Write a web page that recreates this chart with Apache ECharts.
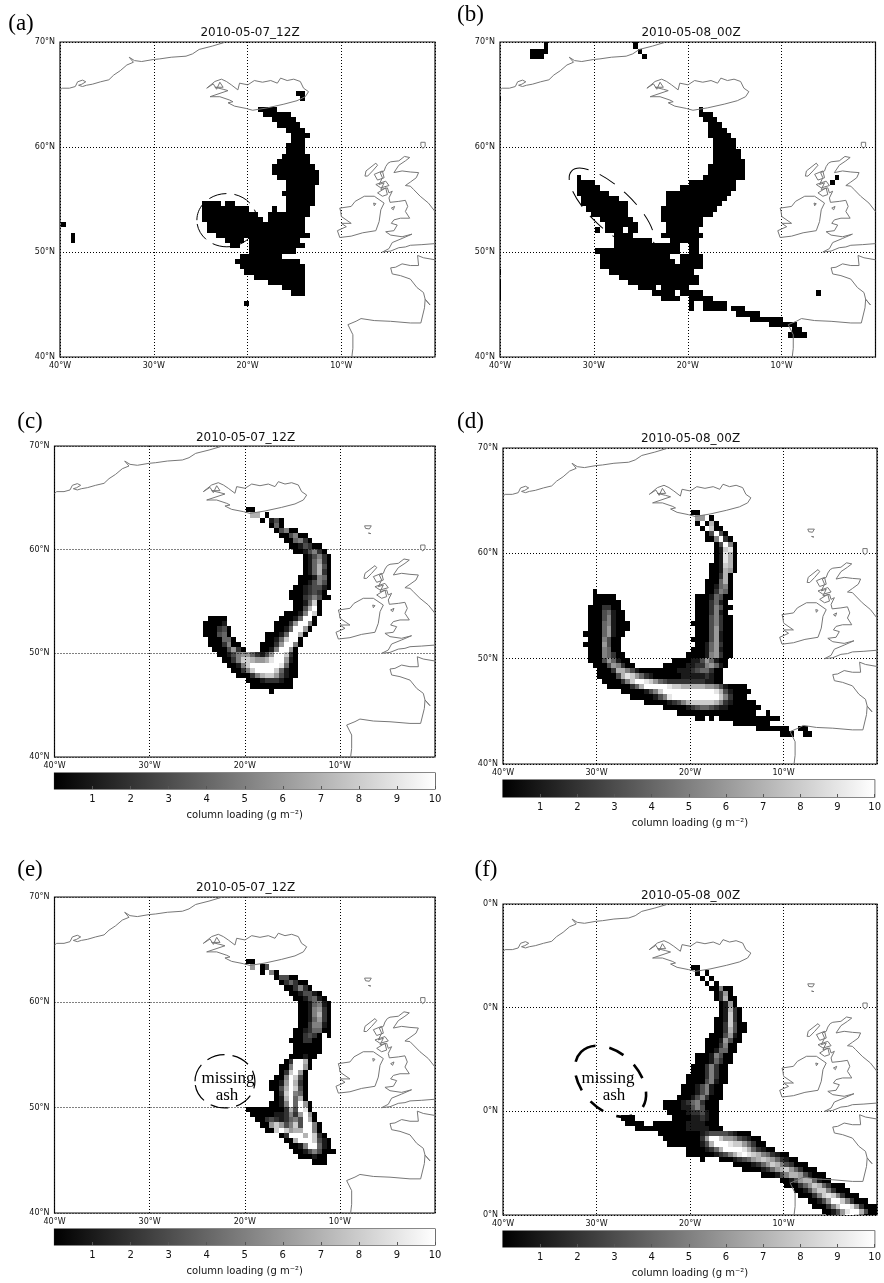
<!DOCTYPE html>
<html><head><meta charset="utf-8">
<style>html,body{margin:0;padding:0;background:#fff}#c{width:884px;height:1283px;filter:blur(0.45px)}</style>
<script src="https://cdn.jsdelivr.net/npm/echarts@6/dist/echarts.min.js"></script>
</head><body><div id="c"></div>
<script>
// ---- axis tick values ----
const lonTicks=[-40,-30,-20,-10,0];
const latTicks=[40,50,60,70];
const colorbarTicks=[1,2,3,4,5,6,7,8,9,10];
const panelTitles=['2010-05-07_12Z','2010-05-08_00Z','2010-05-07_12Z','2010-05-08_00Z','2010-05-07_12Z','2010-05-08_00Z'];
const panelLetters=['(a)','(b)','(c)','(d)','(e)','(f)'];
const colorbarLabel='column loading (g m\u207B\u00B2)';
const colorStops=['#000000','#ffffff'];

// ---- coastlines, [lon, lat] ----
const coastGreenland=[[-40,65.43],[-39.77,65.6],[-39,65.6],[-38.37,65.76],[-38.12,66.21],[-37.6,66.37],[-37.25,66.21],[-37.67,65.98],[-38.02,65.88],[-37.6,65.76],[-37.18,65.88],[-36.55,65.98],[-35.67,66.21],[-34.79,66.4],[-34.27,66.85],[-33.57,67.27],[-32.87,67.81],[-32.17,68.07],[-32.62,68.55],[-32.06,68.23],[-31.29,68.14],[-30.06,68.33],[-29.36,68.39],[-28.14,68.55],[-26.56,68.65],[-25.86,68.87],[-25.16,69.29],[-23.76,69.61],[-22.53,69.94]];
const coastIceland=[[-21.38,63.89],[-20.15,63.67],[-19.45,63.5],[-17.87,63.73],[-16.12,64.08],[-14.72,64.41],[-13.84,64.79],[-13.49,65.27],[-14.02,65.6],[-14.37,66.24],[-15.07,66.46],[-15.77,66.33],[-16.47,66.56],[-16.82,66.08],[-17.52,66.33],[-18.4,66.17],[-19.27,66.33],[-19.97,65.92],[-20.85,66.08],[-21.03,65.44],[-21.73,65.92],[-22.25,66.24],[-22.78,66.46],[-23.48,66.24],[-24.35,65.6],[-23.65,66.01],[-23.3,65.5],[-22.95,66.17],[-22.6,65.69],[-23.48,65.69],[-22.6,65.5],[-22.08,65.37],[-24.0,64.79],[-22.95,64.79],[-21.9,64.47],[-21.55,64.31],[-22.08,64.21],[-21.38,63.89]];
const coastIreland=[[-10.16,54.18],[-8.94,54.34],[-8.52,54.82],[-7.54,55.31],[-6.48,55.31],[-5.43,54.66],[-5.78,54.02],[-5.96,52.9],[-6.31,52.03],[-7.71,51.83],[-8.94,51.51],[-10.16,51.38],[-10.41,52.03],[-9.46,52.41],[-9.99,52.73],[-8.94,52.73],[-9.99,53.38],[-10.06,53.86],[-10.16,54.18]];
const coastLoughNeagh=[[-6.55,54.66],[-6.31,54.6],[-6.48,54.4],[-6.55,54.66]];
const coastBritainEast=[[-5.26,58.13],[-5.01,58.46],[-4.73,58.59],[-3.86,58.68],[-3.26,59.1],[-2.7,59.0],[-3.16,58.68],[-3.86,58.26],[-4.38,57.56],[-3.51,57.72],[-2.63,57.62],[-1.75,57.56],[-2.0,57.07],[-2.63,56.66],[-3.16,56.33],[-2.63,56.27],[-2.28,55.95],[-1.58,55.31],[-0.7,54.66],[0,53.86]];
const coastBritainWest=[[-5.26,58.13],[-5.43,57.72],[-5.85,57.56],[-5.61,57.07],[-5.96,56.43],[-5.43,56.59],[-5.78,55.95],[-5.08,56.11],[-4.91,55.63],[-4.56,55.79],[-4.91,55.15],[-5.08,54.98],[-4.8,54.73],[-3.86,54.82],[-3.16,54.92],[-2.91,54.34],[-3.16,53.86],[-2.7,53.22],[-3.68,53.22],[-4.38,53.06],[-4.66,52.73],[-4.03,52.57],[-4.38,52.03],[-5.26,51.93],[-4.73,51.61],[-3.51,51.45],[-2.46,51.7],[-3.51,51.29],[-4.56,50.9],[-4.91,50.32],[-5.61,50.0],[-4.73,50.09],[-3.86,50.41],[-3.16,50.48],[-2.63,50.64],[-1.4,50.7],[0,50.8]];
const coastFranceSpain=[[0,49.26],[-1.23,49.45],[-1.86,49.67],[-1.75,48.71],[-2.63,48.71],[-3.51,48.87],[-4.21,48.55],[-4.73,48.49],[-4.56,47.91],[-3.68,47.75],[-2.63,47.42],[-1.93,46.62],[-1.23,46.14],[-1.05,45.5],[-0.53,44.95],[-1.05,45.5],[-1.12,44.69],[-1.51,43.24],[-2.63,43.24],[-4.73,43.4],[-6.48,43.47],[-7.89,43.66],[-8.41,43.41],[-9.29,43.08],[-8.76,42.12],[-8.76,40.83],[-8.87,40]];
const coastHebrides=[[-7.47,57.23],[-7.36,57.72],[-6.31,58.46],[-6.13,58.26],[-6.66,57.72],[-7.19,57.23],[-7.47,57.23]];
const coastSkye=[[-6.48,57.4],[-5.61,57.72],[-5.43,57.07],[-6.13,56.85],[-6.48,57.4]];
const coastMull=[[-6.31,56.43],[-5.26,56.75],[-4.91,56.33],[-5.78,56.11],[-6.31,56.43]];
const coastIslay=[[-6.13,55.63],[-5.26,56.11],[-5.08,55.47],[-5.61,55.31],[-6.13,55.63]];
const coastMan=[[-4.66,54.18],[-4.31,54.34],[-4.45,54.02],[-4.66,54.18]];
const coastShetland=[[-1.51,60.45],[-1.05,60.45],[-1.05,60.06],[-1.3,59.87],[-1.51,60.13],[-1.51,60.45]];
const coastFaroe=[[-7.4,62.3],[-6.7,62.3],[-6.9,62.0],[-7.3,62.05],[-7.4,62.3]];
const coastFaroeSouth=[[-7.0,61.6],[-6.75,61.55],[-6.9,61.42],[-7.0,61.6]];
const coastsCommon=[coastGreenland,coastIceland,coastIreland,coastLoughNeagh,coastBritainEast,coastBritainWest,coastFranceSpain,coastHebrides,coastSkye,coastMull,coastIslay,coastMan,coastShetland];
const coastsExtra=[coastFaroe,coastFaroeSouth];

// ---- panel (a): mask rows [row, firstCol, lastCol] on the 0.5 degree model grid ----
const maskA=[[9,50,51],[10,51,51],[12,42,45],[13,43,48],[14,45,49],[15,46,50],[16,48,51],[17,49,52],[18,49,51],[19,48,51],[20,48,51],[21,47,52],[22,46,52],[23,45,53],[24,45,54],[25,46,54],[26,48,54],[27,48,53],[28,47,53],[29,48,53],[30,30,33],[30,35,36],[30,48,53],[31,30,39],[31,45,45],[31,48,52],[32,30,41],[32,44,52],[33,30,42],[33,44,51],[34,0,0],[34,31,51],[35,31,51],[36,2,2],[36,33,52],[37,2,2],[37,35,38],[37,40,50],[38,36,37],[38,40,51],[39,40,49],[40,38,46],[41,37,50],[42,38,51],[43,39,51],[44,41,51],[45,44,51],[46,47,51],[47,49,51],[49,39,39]];
// ---- panel (b) ----
const maskB=[[-1,9,9],[0,9,9],[1,6,9],[2,6,8],[-1,28,28],[0,28,28],[1,29,29],[2,30,30],[10,-1,-1],[43,-1,-1],[45,-1,-1],[46,-1,-1],[47,-1,-1],[48,-1,-1],[12,42,42],[13,42,44],[14,43,45],[15,44,46],[16,44,47],[17,44,48],[18,45,49],[19,45,49],[20,45,50],[21,45,50],[22,45,51],[23,44,51],[24,44,51],[25,43,51],[25,16,16],[25,71,71],[26,40,49],[26,16,19],[26,70,70],[27,38,49],[27,16,20],[28,35,48],[28,16,22],[29,35,47],[29,17,24],[30,35,46],[30,17,26],[31,34,45],[31,18,26],[32,34,44],[32,19,26],[33,34,42],[33,21,27],[34,35,42],[34,22,28],[35,35,41],[35,20,20],[35,22,25],[35,27,28],[36,34,42],[36,24,27],[37,24,31],[37,36,41],[38,24,37],[38,40,41],[39,20,37],[39,40,41],[40,21,35],[40,38,42],[41,21,36],[41,38,42],[42,21,42],[43,23,40],[44,25,41],[45,27,41],[46,29,32],[46,34,39],[47,32,36],[47,38,42],[47,67,67],[48,34,37],[48,40,44],[49,40,40],[49,43,47],[50,40,40],[50,43,47],[50,49,51],[51,50,54],[52,53,59],[53,57,62],[54,62,63],[55,61,64]];
// ---- panel (c): rows [row, firstCol, cell values 0-9, a=10] ----
const loadC=[[11,40,'00'],[12,41,'77.0'],[13,43,'0.130'],[14,45,'040'],[15,46,'03500'],[16,47,'003500'],[17,48,'004520'],[18,49,'0013200'],[19,50,'0013520'],[20,52,'013520'],[21,52,'014620'],[22,52,'014730'],[23,52,'014720'],[24,51,'0001540'],[25,51,'0013530'],[26,50,'00123310'],[27,49,'00012320'],[28,49,'000235300'],[29,50,'001480'],[30,50,'0037a0'],[31,48,'00015a80'],[32,47,'00014aa0'],[32,32,'0000'],[33,46,'00026aa50'],[33,31,'00001'],[34,46,'0014aa60'],[34,31,'000230'],[35,44,'00014aa70'],[35,31,'000340'],[36,44,'00148aa0'],[36,32,'000440'],[37,43,'00026aa50'],[37,32,'0002500'],[38,43,'0015aa60'],[38,33,'0003620'],[39,34,'001356642136aa820'],[40,35,'00258876679aa610'],[41,36,'00158aaaaaa9400'],[42,37,'00258aaaa84100'],[43,38,'0002578863100'],[44,40,'0001222100'],[45,41,'000000000'],[46,45,'0']];
// ---- panel (d) ----
const loadD=[[11,40,'00'],[12,41,'66.0'],[13,41,'0.070'],[14,42,'0a800'],[15,43,'03a30'],[16,43,'005a20'],[17,45,'03a50'],[18,45,'01890'],[19,45,'01970'],[20,45,'01970'],[21,44,'001870'],[22,44,'001760'],[23,44,'00270'],[24,43,'000470'],[25,43,'001450'],[26,43,'002540'],[26,19,'0'],[27,41,'00014300'],[27,19,'00000'],[28,41,'0002410'],[28,19,'000000'],[29,41,'00025300'],[29,18,'0002200'],[30,41,'0002510'],[30,18,'00034100'],[31,41,'00035200'],[31,18,'00035100'],[32,40,'000035200'],[32,18,'000451000'],[33,41,'00036200'],[33,18,'000461000'],[34,41,'00036100'],[34,17,'000046100'],[35,40,'000036100'],[35,18,'0005300'],[36,41,'00146200'],[36,17,'00006300'],[37,40,'000146100'],[37,18,'0005400'],[38,39,'0000156200'],[38,18,'00054200'],[39,18,'000364100'],[39,36,'000011364100'],[40,19,'000365200'],[40,34,'00000112256410'],[41,20,'000277531000000001112344200'],[42,20,'000037986421000000111112100'],[43,21,'0000258aa98643222222221100'],[44,22,'00000247aaaaa98877777665310000'],[45,25,'000001358aaaaaaaaaaa97310000'],[46,27,'000001359aaaaaaaaaa852000'],[47,30,'000001235788888752100000'],[48,34,'000001234432110000000'],[49,37,'00000000000000000'],[49,56,'0'],[50,41,'00'],[50,44,'0'],[50,46,'0000000000000'],[51,49,'00000000'],[52,54,'0000000'],[52,63,'00'],[53,59,'000'],[53,64,'00']];
// ---- panel (e) ----
const loadE=[[11,40,'00'],[12,41,'6.03'],[13,43,'0.50'],[14,46,'03300'],[15,47,'024200'],[16,48,'002520'],[17,49,'0013310'],[18,50,'0013410'],[19,51,'0014510'],[20,51,'0015620'],[21,51,'0015720'],[22,51,'0014620'],[23,51,'0025510'],[24,50,'00124400'],[25,50,'002320.0'],[26,49,'0002200'],[27,50,'000000'],[28,50,'000000'],[29,49,'000100'],[30,48,'02aa70'],[31,47,'005aa60'],[32,47,'028a60'],[33,46,'005a830'],[34,45,'0016a720'],[35,45,'0037a830'],[36,46,'028a540'],[37,46,'017a470'],[38,45,'0015a4a60'],[39,40,'00000000273a90'],[40,41,'00000112526a60'],[41,42,'0023212453a70'],[42,43,'006863583aa50'],[43,44,'008a8677aa50'],[44,47,'02aaa7a820'],[45,48,'007aaa8310'],[46,49,'0015aa410'],[47,50,'001353000'],[48,51,'000100'],[49,54,'000']];
// ---- panel (f) ----
const loadF=[[11,40,'00'],[12,41,'0.0'],[13,42,'0.0'],[14,43,'0.0'],[15,44,'00500'],[16,45,'0260'],[17,45,'02700'],[18,46,'0160'],[19,46,'01720'],[20,46,'01820'],[21,45,'001820'],[22,45,'0028300'],[23,45,'0027300'],[24,44,'0003610'],[25,43,'00016300'],[26,43,'0002500'],[27,43,'0014400'],[28,41,'00015300'],[29,41,'00014200'],[30,40,'00025200'],[31,40,'00025200'],[32,39,'000025200'],[33,39,'000035100'],[34,38,'000135100'],[35,38,'000135100'],[36,37,'0001352000'],[37,34,'000012452000'],[38,34,'000011353000'],[39,35,'00001223100'],[40,25,'000'],[40,36,'0000112100'],[41,26,'0000'],[41,32,'00000001111000'],[42,28,'0000000000011111000'],[43,33,'00000000012333321000'],[44,34,'0000000026aa866532100'],[45,35,'0000000137aaa98864200'],[46,39,'00001247aaaa9742100'],[47,39,'000000123579a987542100'],[48,42,'0'],[48,46,'00012346787642100'],[49,49,'0000124687532000'],[50,51,'0000124678642000'],[51,55,'00013577631000'],[52,59,'00136774100'],[53,60,'0002468742000'],[54,62,'001368852000'],[55,63,'0002589852000'],[56,65,'00136aa852000'],[57,66,'000258aa962000'],[58,68,'001369aa7300'],[59,69,'0136aa84000']];

// ---- dashed "missing ash" ellipses: [lon, lat, semi-major, semi-minor, tilt deg, line width] ----
const ringA=[[-22.2,53.03,3.2,2.84,0,1]];
const ringB=[[-28.1,54.14,5.85,2.2,43,1]];
const ringE=[[-22.08,52.5,3.15,2.8,0,1.2]];
const ringF=[[-28.5,52.9,4.45,3.03,45,2.6]];

// ---- layout ----
const frames=[
 {l:60,t:42,w:375,h:315,ox:.3,oy:.33,mask:maskA,ring:ringA,dash:[18,8],lat0:false},
 {l:500,t:42,w:375.5,h:315,ox:.3,oy:.33,mask:maskB,ring:ringB,dash:[18,12],lat0:false},
 {l:54.5,t:446,w:380.5,h:311,ox:.2,oy:.8,load:loadC,cb:{t:773,h:16},extra:true},
 {l:503,t:448,w:374,h:316,ox:.15,oy:.8,load:loadD,cb:{t:780,h:17},extra:true},
 {l:54.5,t:897,w:380.5,h:316,ox:.2,oy:.8,load:loadE,ring:ringE,dash:[18,8],cb:{t:1229,h:16},extra:true},
 {l:503,t:904,w:374,h:311,ox:.15,oy:.8,load:loadF,ring:ringF,dash:[16,14],cb:{t:1231,h:16},extra:true,lat0:true}
];
const titleY=[33,33,438,439,888,896];
const titleX=[250,691,245.5,690.5,245.5,690.5];
const letterPos=[[21,24],[470.5,15],[30,422],[470.5,422],[30,870],[486,870]];
const cbLabelY=[0,0,815,823,1271,1273];
const annotTexts=[
 {t:'missing',x:228,y:1079},{t:'ash',x:227,y:1096},
 {t:'missing',x:608,y:1079},{t:'ash',x:614,y:1096}
];

const gray=v=>{const g=Math.round(v*25.5);return 'rgb('+g+','+g+','+g+')';};
function cellsOf(f){
  const out=[];
  const put=(r,c,v)=>out.push([-40+.5*(c+f.ox),70-.5*(r+f.oy),v]);
  if(f.mask) f.mask.forEach(m=>{for(let c=m[1];c<=m[2];c++)put(m[0],c,0);});
  if(f.load) f.load.forEach(m=>{[...m[2]].forEach((ch,i)=>{if(ch!=='.')put(m[0],m[1]+i,parseInt(ch,16));});});
  return out;
}
const grids=[],xAxes=[],yAxes=[],series=[],graphics=[];
frames.forEach((f,i)=>{
  const gi=grids.length;
  grids.push({left:f.l,top:f.t,width:f.w,height:f.h,show:true,borderColor:'#111',borderWidth:1.2,backgroundColor:'#fff',containLabel:false});
  xAxes.push({gridIndex:gi,type:'value',min:-40,max:0,interval:10,z:3,
    axisLine:{show:false},axisTick:{show:false},
    axisLabel:{show:true,margin:5,fontSize:8,color:'#111',fontFamily:'DejaVu Sans',showMinLabel:true,showMaxLabel:false,
      formatter:v=>lonTicks.includes(v)&&v<0?Math.abs(v)+'\u00B0W':''},
    splitLine:{show:true,lineStyle:{color:'#000',width:1,type:[1,2]}}});
  yAxes.push({gridIndex:gi,type:'value',min:40,max:70,interval:10,z:3,
    axisLine:{show:false},axisTick:{show:false},
    axisLabel:{show:true,margin:5,fontSize:8,color:'#111',fontFamily:'DejaVu Sans',showMinLabel:true,showMaxLabel:true,
      formatter:v=>latTicks.includes(v)?(f.lat0?'0':v)+'\u00B0N':''},
    splitLine:{show:true,lineStyle:{color:'#000',width:1,type:[1,2]}}});
  series.push({type:'custom',xAxisIndex:gi,yAxisIndex:gi,clip:true,z:2,silent:true,animation:false,
    dimensions:['lon','lat','v'],encode:{x:0,y:1},data:cellsOf(f),
    renderItem:(p,api)=>{
      const a=api.coord([api.value(0),api.value(1)]),b=api.coord([api.value(0)+.5,api.value(1)-.5]);
      const x=Math.round(a[0]),y=Math.round(a[1]);
      return {type:'rect',shape:{x:x,y:y,width:Math.round(b[0])-x,height:Math.round(b[1])-y},style:{fill:gray(api.value(2))}};
    }});
  coastsCommon.concat(f.extra?coastsExtra:[]).forEach(line=>{
    series.push({type:'line',xAxisIndex:gi,yAxisIndex:gi,data:line,symbol:'none',silent:true,animation:false,z:4,clip:true,
      lineStyle:{color:'#777',width:1}});
  });
  if(f.ring){
    series.push({type:'custom',xAxisIndex:gi,yAxisIndex:gi,clip:false,z:5,silent:true,animation:false,
      dimensions:['lon','lat','a','b','tilt','lw'],encode:{x:0,y:1},data:f.ring,
      renderItem:(p,api)=>{
        const c=api.coord([api.value(0),api.value(1)]),u=api.size([1,1])[0];
        return {type:'ellipse',x:c[0],y:c[1],rotation:-api.value(4)*Math.PI/180,
          shape:{cx:0,cy:0,rx:api.value(2)*u,ry:api.value(3)*u},
          style:{fill:null,stroke:'#000',lineWidth:api.value(5),lineDash:f.dash}};
      }});
  }
  graphics.push({type:'text',x:titleX[i],y:titleY[i],z:20,style:{text:panelTitles[i],font:'12px "DejaVu Sans"',fill:'#111',align:'center',verticalAlign:'middle'}});
  graphics.push({type:'text',x:letterPos[i][0],y:letterPos[i][1],z:20,style:{text:panelLetters[i],font:'23px "Liberation Serif"',fill:'#000',align:'center',verticalAlign:'middle'}});
  if(f.cb){
    const gc=grids.length;
    grids.push({left:f.l,top:f.cb.t,width:f.w,height:f.cb.h,show:true,borderColor:'#111',borderWidth:1.2,backgroundColor:'#fff'});
    xAxes.push({gridIndex:gc,type:'value',min:0,max:10,interval:1,z:3,axisLine:{show:false},splitLine:{show:false},
      axisTick:{show:true,inside:true,length:3,lineStyle:{color:'#555',width:1}},
      axisLabel:{show:true,margin:5,fontSize:10,color:'#111',fontFamily:'DejaVu Sans',showMinLabel:false,showMaxLabel:true,
        formatter:v=>colorbarTicks.includes(v)?String(v):''}});
    yAxes.push({gridIndex:gc,type:'value',min:0,max:1,show:false,splitLine:{show:false}});
    series.push({type:'custom',xAxisIndex:gc,yAxisIndex:gc,z:2,silent:true,animation:false,clip:true,
      dimensions:['x0','x1'],encode:{x:[0,1]},data:[[0,10]],
      renderItem:(p,api)=>{
        const a=api.coord([api.value(0),1]),b=api.coord([api.value(1),0]);
        return {type:'rect',shape:{x:a[0],y:a[1],width:b[0]-a[0],height:b[1]-a[1]},
          style:{fill:new echarts.graphic.LinearGradient(0,0,1,0,[{offset:0,color:colorStops[0]},{offset:1,color:colorStops[1]}])}};
      }});
    graphics.push({type:'text',x:f.l+f.w/2,y:cbLabelY[i],z:20,style:{text:colorbarLabel,font:'10px "DejaVu Sans"',fill:'#111',align:'center',verticalAlign:'middle'}});
  }
});
annotTexts.forEach(a=>graphics.push({type:'text',x:a.x,y:a.y,z:20,style:{text:a.t,font:'17px "Liberation Serif"',fill:'#000',align:'center',verticalAlign:'middle'}}));

const chart=echarts.init(document.getElementById('c'),null,{renderer:'canvas',width:884,height:1283});
chart.setOption({animation:false,backgroundColor:'#fff',grid:grids,xAxis:xAxes,yAxis:yAxes,series:series,graphic:{elements:graphics}});
</script></body></html>
